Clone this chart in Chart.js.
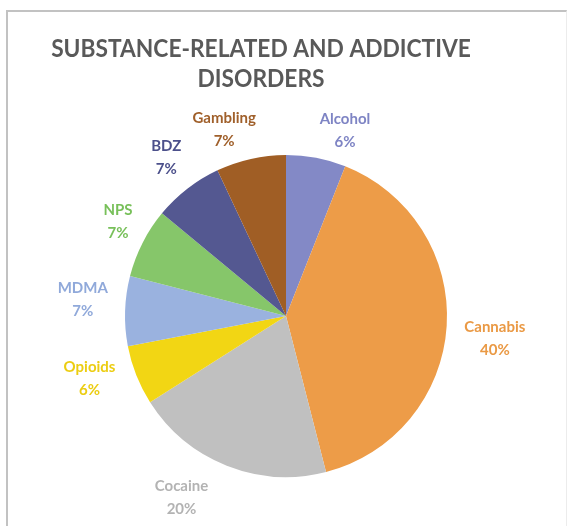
<!DOCTYPE html>
<html>
<head>
<meta charset="utf-8">
<script src="https://cdn.jsdelivr.net/npm/chart.js@4"></script>
<style>
  html, body { margin: 0; padding: 0; background: #fff; }
  #wrap { position: relative; width: 571px; height: 526px; overflow: hidden; }
  #frame {
    position: absolute; left: 6px; top: 10px; width: 558px; height: 530px;
    border-top: 2px solid #c2c2c2; border-left: 2px solid #c2c2c2; border-right: 1px solid #ececec;
  }
  canvas { position: absolute; left: 0; top: 0; }
</style>
</head>
<body>
<div id="wrap">
  <div id="frame"></div>
  <canvas id="pie" width="571" height="526"></canvas>
</div>
<script>
// datos del gráfico
const categories = ['Alcohol', 'Cannabis', 'Cocaine', 'Opioids', 'MDMA', 'NPS', 'BDZ', 'Gambling'];
const shares = [6, 40, 20, 6, 7, 7, 7, 7];
const titleLines = ['SUBSTANCE-RELATED AND ADDICTIVE', 'DISORDERS'];

// colores de las porciones y de las etiquetas
const sliceColors = ['#8389c6', '#ed9c48', '#c0c0c0', '#f2d614', '#9ab2df', '#86c66a', '#545891', '#a05e25'];
const labelColors = ['#7e84c4', '#ea9944', '#b3b3b3', '#eccd12', '#90a9da', '#78c05a', '#4c508b', '#a0602b'];

// ajuste de las etiquetas (grados de giro y distancia fuera del borde)
const labelTurn = [6.8, 2.4, 8.4, 4.1, 3, 2.5, 0.8, -5.7];
const labelGap = [34, 49, 48, 45, 43, 32, 38, 36];

const FONT = 'Lato, "Open Sans", sans-serif';

// Plugin para el título y las etiquetas exteriores
const outsideLabels = {
    id: 'outsideLabels',
    afterDraw: (chart) => {
        const ctx = chart.ctx;
        ctx.save();
        ctx.textAlign = 'center';
        ctx.textBaseline = 'middle';

        // título (un poco estrecho, como Calibri)
        ctx.save();
        ctx.fillStyle = '#595959';
        ctx.font = 'bold 25px ' + FONT;
        ctx.translate(261, 0);
        ctx.scale(0.91, 1);
        ctx.fillText(titleLines[0], 0, 49);
        ctx.fillText(titleLines[1], 0, 79);
        ctx.restore();

        // etiquetas
        ctx.font = 'bold 15px ' + FONT;
        const meta = chart.getDatasetMeta(0);
        meta.data.forEach((arc, i) => {
            const mid = (arc.startAngle + arc.endAngle) / 2 + labelTurn[i] * Math.PI / 180;
            const r = arc.outerRadius + labelGap[i];
            const x = arc.x + Math.cos(mid) * r;
            const y = arc.y + Math.sin(mid) * r;
            ctx.fillStyle = labelColors[i];
            ctx.fillText(categories[i], x, y - 11);
            ctx.fillText(shares[i] + '%', x, y + 12);
        });
        ctx.restore();
    }
};

const ctx = document.getElementById('pie').getContext('2d');
new Chart(ctx, {
    type: 'pie',
    data: {
        labels: categories,
        datasets: [{
            data: shares,
            backgroundColor: sliceColors,
            borderWidth: 0
        }]
    },
    options: {
        responsive: false,
        animation: false,
        layout: {
            padding: { top: 155, bottom: 49, left: 125, right: 124 }
        },
        plugins: {
            legend: { display: false },
            tooltip: { enabled: false },
            title: { display: false }
        }
    },
    plugins: [outsideLabels]
});
</script>
</body>
</html>
